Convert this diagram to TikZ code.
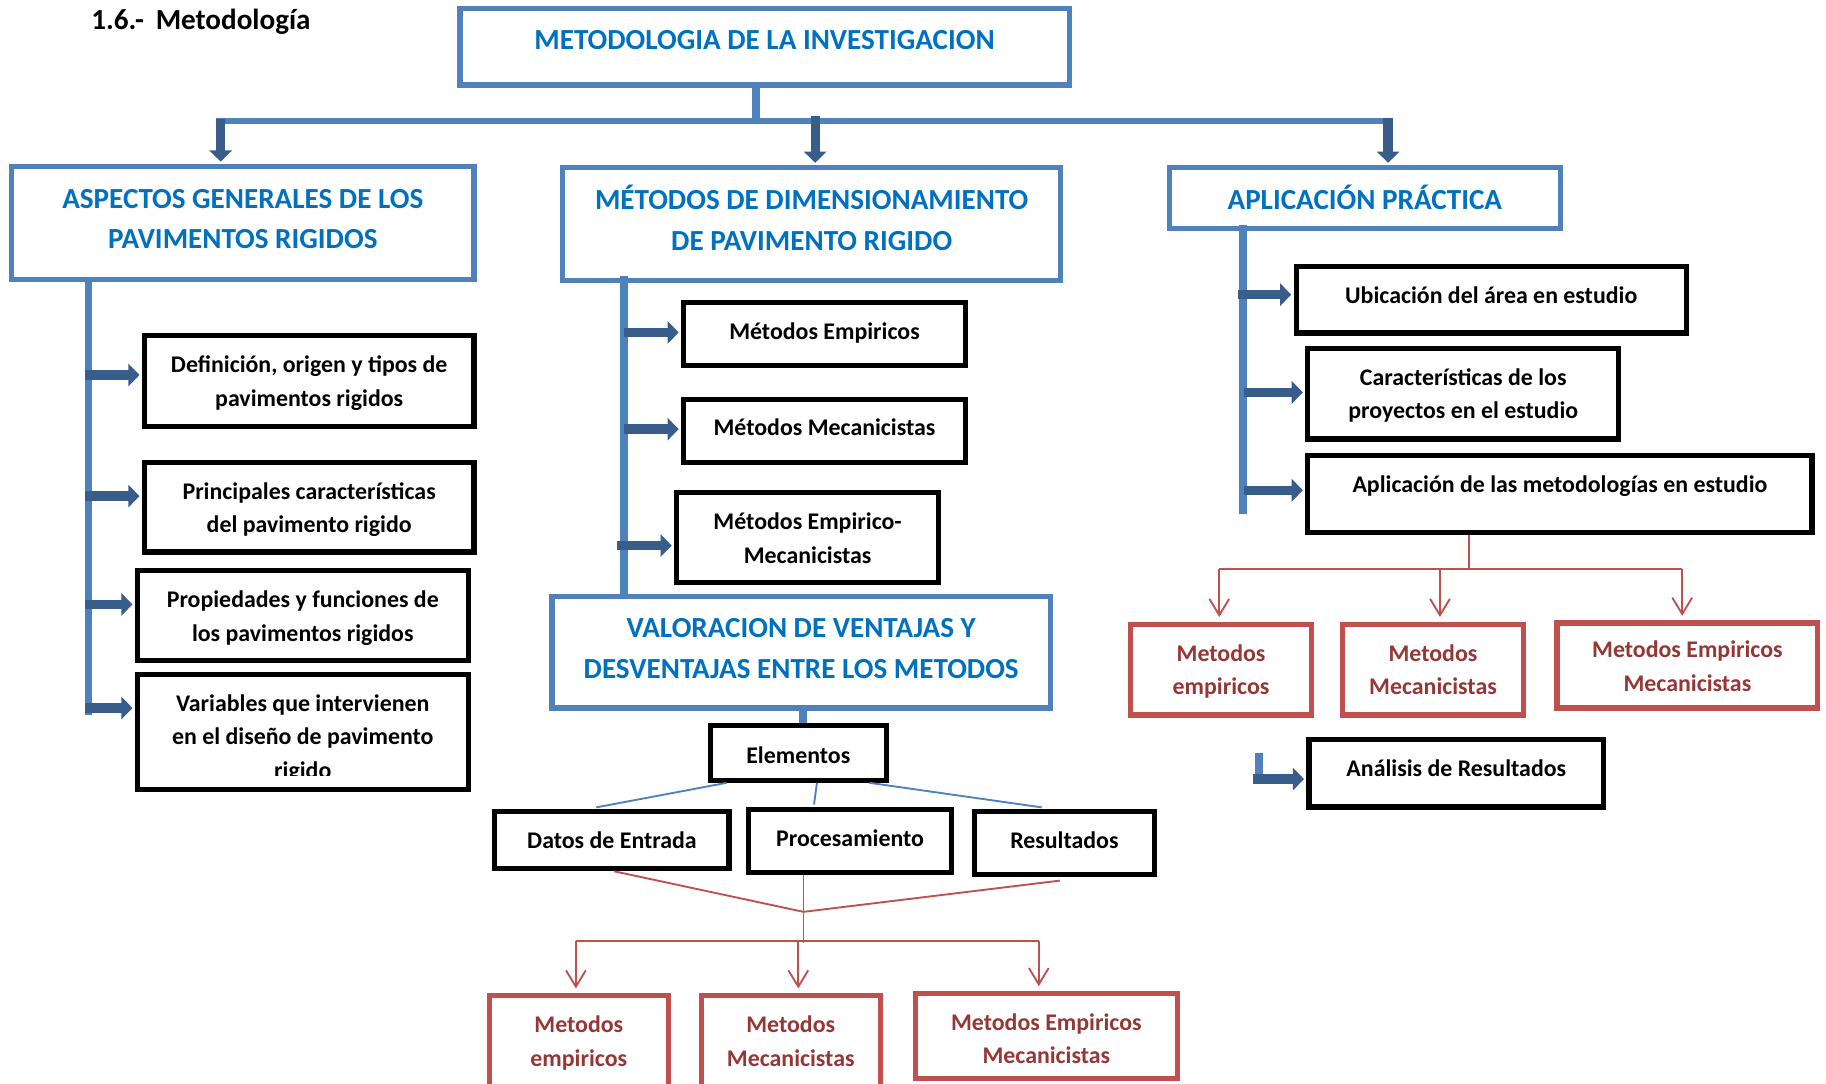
\documentclass[tikz,border=0pt]{standalone}
\usepackage{fontspec}
\setmainfont{Carlito}
\usetikzlibrary{arrows.meta,fit}

\definecolor{bl}{HTML}{4F81BD}
\definecolor{dbl}{HTML}{385D8A}
\definecolor{tbl}{HTML}{0070C0}
\definecolor{rd}{HTML}{C0504D}
\definecolor{trd}{HTML}{953735}

% uniform line strut so that node centres sit on the visual centre of each line
\newcommand\vs{\rule[-0.25em]{0pt}{1.1em}}

\begin{document}
\begin{tikzpicture}[x=0.5pt,y=-0.5pt,
  bbox/.style={draw=bl, line width=2.2pt, inner sep=0pt, fill=white},
  kbox/.style={draw=black, line width=2.2pt, inner sep=0pt, fill=white},
  rbox/.style={draw=rd, line width=2.2pt, inner sep=0pt, fill=white},
  btxt/.style={text=tbl, inner sep=0pt, yshift=-0.6pt, align=center, font=\fontsize{12.5pt}{17.5pt}\selectfont\bfseries},
  ktxt/.style={text=black, inner sep=0pt, yshift=-0.75pt, align=center, font=\fontsize{10.25pt}{14.5pt}\selectfont\bfseries},
  rtxt/.style={ktxt, text=trd},
  spine/.style={draw=bl, line width=3.2pt},
  hbar/.style={draw=bl, line width=2.3pt},
  harr/.style={draw=dbl, line width=4pt, shorten >=1pt, -{Triangle[width=9.5pt,length=4.8pt]}},
  thinb/.style={draw=bl, line width=0.8pt},
  rline/.style={draw=rd, line width=0.8pt},
  rarr/.style={rline, shorten >=2pt, -{Straight Barb[width=8.5pt,length=7pt]}},
]
\useasboundingbox (0,0) rectangle (1568,930);
\clip (0,0) rectangle (1568,930);
\fill[white] (0,0) rectangle (1568,930);

% section heading
\node[ktxt, font=\fontsize{12.5pt}{14pt}\selectfont\bfseries, anchor=west] (ttl) at (78,16) {\vs 1.6.-\hspace{5pt}Metodología};

% ---------- blue headings ----------
\node[bbox, fit={(395,7)(918,73)}] (top) {};
\node[btxt] (top-t) at (656.5,34) {\vs METODOLOGIA DE LA INVESTIGACION};
\node[bbox, fit={(10,143)(407,240)}] (asp) {};
\node[btxt] (asp-t) at (208.5,187.5) {\vs ASPECTOS GENERALES DE LOS\\\vs PAVIMENTOS RIGIDOS};
\node[bbox, fit={(483,144)(911,241)}] (met) {};
\node[btxt] (met-t) at (697,188.5) {\vs MÉTODOS DE DIMENSIONAMIENTO\\\vs DE PAVIMENTO RIGIDO};
\node[bbox, fit={(1004,144)(1340,196)}] (apl) {};
\node[btxt] (apl-t) at (1172,171) {\vs APLICACIÓN PRÁCTICA};
\node[bbox, fit={(474,512)(902,608)}] (val) {};
\node[btxt] (val-t) at (688,556.5) {\vs VALORACION DE VENTAJAS Y\\\vs DESVENTAJAS ENTRE LOS METODOS};

% ---------- left column ----------
\node[kbox, fit={(124,288)(407,366)}] (def) {};
\node[ktxt] (def-t) at (265.5,326.5) {\vs Definición, origen y tipos de\\\vs pavimentos rigidos};
\node[kbox, fit={(124,397)(407,474)}] (pri) {};
\node[ktxt] (pri-t) at (265.5,435.5) {\vs Principales características\\\vs del pavimento rigido};
\node[kbox, fit={(118,490)(402,567)}] (pro) {};
\node[ktxt] (pro-t) at (260,528.5) {\vs Propiedades y funciones de\\\vs los pavimentos rigidos};
\node[kbox, fit={(118,579)(402,678)}] (var) {};
\begin{scope}
  \clip (118,579) rectangle (402,666);
  \node[ktxt] (var-t) at (260,632) {\vs Variables que intervienen\\\vs en el diseño de pavimento\\\vs rigido};
\end{scope}

% ---------- middle column ----------
\node[kbox, fit={(587,260)(829,314)}] (emp) {};
\node[ktxt] (emp-t) at (708,284) {\vs Métodos Empiricos};
\node[kbox, fit={(587,343)(829,397)}] (mec) {};
\node[ktxt] (mec-t) at (708,366) {\vs Métodos Mecanicistas};
\node[kbox, fit={(581,423)(806,500)}] (emm) {};
\node[ktxt] (emm-t) at (693.5,461.5) {\vs Métodos Empirico-\\\vs Mecanicistas};
\node[kbox, fit={(610,623)(761,670)}] (ele) {};
\node[ktxt] (ele-t) at (685.5,648) {\vs Elementos};
\node[kbox, fit={(425,697)(626,746)}] (dat) {};
\node[ktxt] (dat-t) at (525.5,721) {\vs Datos de Entrada};
\node[kbox, fit={(643,695)(817,749)}] (prc) {};
\node[ktxt] (prc-t) at (730,719) {\vs Procesamiento};
\node[kbox, fit={(837,697)(991,751)}] (res) {};
\node[ktxt] (res-t) at (914,721) {\vs Resultados};
\node[rbox, fit={(420,855)(574,950)}] (r1) {};
\node[rtxt] (r1-t) at (497,893.5) {\vs Metodos\\\vs empiricos};
\node[rbox, fit={(602,855)(756,950)}] (r2) {};
\node[rtxt] (r2-t) at (679,893.5) {\vs Metodos\\\vs Mecanicistas};
\node[rbox, fit={(786,853)(1011,926)}] (r3) {};
\node[rtxt] (r3-t) at (898.5,891.5) {\vs Metodos Empiricos\\\vs Mecanicistas};

% ---------- right column ----------
\node[kbox, fit={(1113,229)(1448,286)}] (ubi) {};
\node[ktxt] (ubi-t) at (1280.5,253) {\vs Ubicación del área en estudio};
\node[kbox, fit={(1123,299)(1390,377)}] (car) {};
\node[ktxt] (car-t) at (1256.5,337.5) {\vs Características de los\\\vs proyectos en el estudio};
\node[kbox, fit={(1123,391)(1556,457)}] (apm) {};
\node[ktxt] (apm-t) at (1339.5,415) {\vs Aplicación de las metodologías en estudio};
\node[rbox, fit={(971,536)(1126,614)}] (s1) {};
\node[rtxt] (s1-t) at (1048.5,574.5) {\vs Metodos\\\vs empiricos};
\node[rbox, fit={(1153,536)(1308,614)}] (s2) {};
\node[rtxt] (s2-t) at (1230.5,574.5) {\vs Metodos\\\vs Mecanicistas};
\node[rbox, fit={(1337,535)(1561,608)}] (s3) {};
\node[rtxt] (s3-t) at (1449,571.5) {\vs Metodos Empiricos\\\vs Mecanicistas};
\node[kbox, fit={(1124,635)(1377,693)}] (ana) {};
\node[ktxt] (ana-t) at (1250.5,659) {\vs Análisis de Resultados};

% ---------- top distribution bar ----------
\coordinate (hub) at (649,104);
\coordinate (b1) at (189.5,104);
\coordinate (b2) at (700,104);
\coordinate (b3) at (1192,104);
\draw[spine] (top.south -| hub) -- (hub);
\draw[hbar] ([xshift=-2pt]b1) -- ([xshift=2pt]b3);
\draw[harr] ([yshift=1pt]b1) -- (b1 |- asp.north);
\draw[harr] ([yshift=2pt]b2) -- (b2 |- met.north);
\draw[harr] ([yshift=1.5pt]b3) -- (b3 |- apl.north);

% ---------- left spine ----------
\coordinate (L1) at (76,614);
\draw[spine] (asp.south -| L1) -- (L1);
\coordinate (la1) at (73,322);
\coordinate (la2) at (73,426);
\coordinate (la3) at (73,519);
\coordinate (la4) at (73,608);
\draw[harr] (la1) -- (la1 -| def.west);
\draw[harr] (la2) -- (la2 -| pri.west);
\draw[harr] (la3) -- (la3 -| pro.west);
\draw[harr] (la4) -- (la4 -| var.west);

% ---------- middle spine ----------
\coordinate (M1) at (536,0);
\draw[spine] ([yshift=3pt]met.south -| M1) -- (val.north -| M1);
\coordinate (ma1) at (536,285.5);
\coordinate (ma2) at (536,368.5);
\coordinate (ma3) at (530,468.5);
\draw[harr] (ma1) -- (ma1 -| emp.west);
\draw[harr] (ma2) -- (ma2 -| mec.west);
\draw[harr] (ma3) -- (ma3 -| emm.west);

% ---------- right spine ----------
\coordinate (R1) at (1067.5,441);
\draw[spine] ([yshift=2.5pt]apl.south -| R1) -- (R1);
\coordinate (ra1) at (1063,253);
\coordinate (ra2) at (1068,337);
\coordinate (ra3) at (1068,421);
\draw[harr] (ra1) -- (ra1 -| ubi.west);
\draw[harr] (ra2) -- (ra2 -| car.west);
\draw[harr] (ra3) -- (ra3 -| apm.west);

% ---------- elements ----------
\coordinate (E1) at (689.5,0);
\draw[spine, line width=3.6pt] (val.south -| E1) -- (ele.north -| E1);
\draw[thinb] ([xshift=-30.75pt]ele.south) -- ([xshift=-6.75pt,yshift=0.75pt]dat.north);
\draw[thinb] ([xshift=8pt]ele.south) -- ([xshift=-15.5pt,yshift=1pt]prc.north);
\draw[thinb] ([xshift=30.5pt]ele.south) -- ([xshift=-9.75pt,yshift=0.75pt]res.north);

% ---------- bottom red branch ----------
\coordinate (J) at (690,783);
\coordinate (K) at (690,810);
\draw[rline] ([xshift=1pt]dat.south) -- (J) -- ([xshift=-2pt,yshift=-1.5pt]res.south);
\draw[rline] ([xshift=-20pt]prc.south) -- (K);
\coordinate (H1) at (494.5,808);
\coordinate (H2) at (685.5,808);
\coordinate (H3) at (892,808);
\draw[rline] (H1) -- (H3);
\draw[rarr] (H1) -- (H1 |- r1.north);
\draw[rarr] (H2) -- (H2 |- r2.north);
\draw[rarr] (H3) -- (H3 |- r3.north);

% ---------- right red branch ----------
\coordinate (G) at (1261.5,488.5);
\draw[rline] ([xshift=-39pt]apm.south) -- (G);
\coordinate (G1) at (1047,488.5);
\coordinate (G2) at (1236.5,488.5);
\coordinate (G3) at (1444.5,488.5);
\draw[rline] (G1) -- (G3);
\draw[rarr] (G1) -- (G1 |- s1.north);
\draw[rarr] (G2) -- (G2 |- s2.north);
\draw[rarr] (G3) -- (G3 |- s3.north);

% ---------- link to results analysis ----------
\coordinate (A0) at (1081,647);
\coordinate (A1) at (1076,669);
\draw[spine] (A0) -- (A0 |- A1);
\draw[harr] (A1) -- (A1 -| ana.west);
\end{tikzpicture}
\end{document}
